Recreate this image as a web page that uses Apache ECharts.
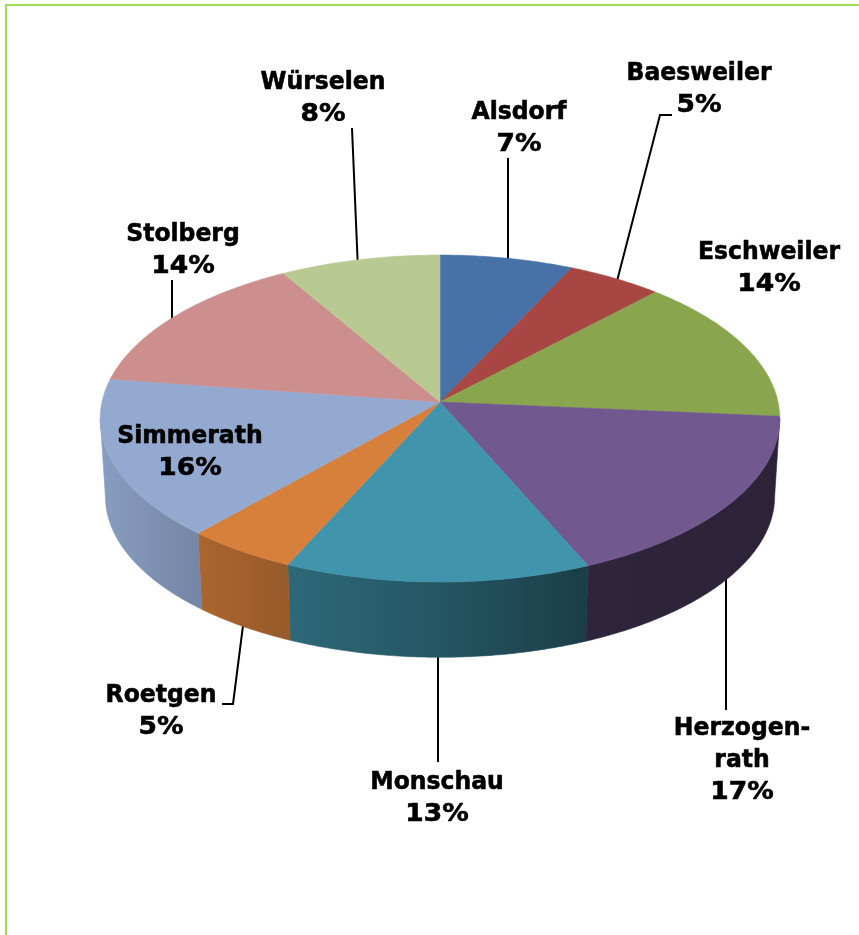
<!DOCTYPE html>
<html>
<head>
<meta charset="utf-8">
<style>html,body{margin:0;padding:0;background:#fff}#c{width:859px;height:935px}</style>
<script src="https://cdn.jsdelivr.net/npm/echarts@6/dist/echarts.min.js"></script>
</head>
<body>
<div id="c"></div>
<script>
const categories = ['Alsdorf','Baesweiler','Eschweiler','Herzogenrath','Monschau','Roetgen','Simmerath','Stolberg','Würselen'];
const labelNames = ['Alsdorf','Baesweiler','Eschweiler','Herzogen-\nrath','Monschau','Roetgen','Simmerath','Stolberg','Würselen'];
const shares = [7.0,5.0,14.4,17.1,13.2,4.8,15.8,14.3,8.4];
const percentLabels = ['7%','5%','14%','17%','13%','5%','16%','14%','8%'];
const colors = ['#4672a8','#a84643','#89a54e','#71588f','#4095ad','#d7803c','#93a9cf','#cd8f8e','#b8ca92'];

// Layout (not data): projection of the disc
const view = {cx:440, cy:402, R:338, S:161.8, p:0.101, depthScale:0.985, depth:78, left:99, right:779};
// Label centres (first line middle) and leader paths
const labelPos = [[519,111],[699,72],[769,251],[742,727],[437,781],[161,694],[190,435],[183,233],[323,81]];
const leaders = [
  [[508,158],[508,270]],
  [[672,115],[660,115],[616,285]],
  null,
  [[726,560],[726,710]],
  [[438,640],[438,762]],
  [[222,704],[233,704],[245,610]],
  null,
  [[172,280],[172,325]],
  [[352,128],[358,270]]
];
const lineH = 32;
const shadeStops = [[0,.93],[.15,.79],[.28,.70],[.5,.58],[.72,.41],[1,.40]];

const total = shares.reduce((a,b)=>a+b,0);
// the wall is only visible between the two points where the rim is widest
const wallFrom = Math.acos(-view.p), wallTo = 2*Math.PI-wallFrom;

function project(a){
  const u=Math.sin(a), v=Math.cos(a), d=1+view.p*v;
  return [view.cx+view.R*u/d, view.cy-view.S*v/d];
}
function lower(pt){
  return [view.cx+(pt[0]-view.cx)*view.depthScale, view.cy+(pt[1]-view.cy)*view.depthScale+view.depth];
}
function range(i){
  let s=0; for(let k=0;k<i;k++) s+=shares[k];
  return [s/total*2*Math.PI,(s+shares[i])/total*2*Math.PI];
}
function arc(a,b){
  const n=Math.max(4,Math.ceil((b-a)/0.01)), out=[];
  for(let k=0;k<=n;k++) out.push(project(a+(b-a)*k/n));
  return out;
}
function hex(c){return [1,3,5].map(o=>parseInt(c.substr(o,2),16));}
function sideFill(c){
  const h=hex(c);
  return new echarts.graphic.LinearGradient(view.left,0,view.right,0,
    shadeStops.map(s=>({offset:s[0],color:'rgb('+h.map(x=>Math.round(x*s[1])).join(',')+')'})),true);
}
function textEl(text,x,y,sx){
  return {type:'text',x,y,scaleX:sx,style:{text,x:0,y:0,align:'center',verticalAlign:'top',
    font:'bold 25px "DejaVu Sans"',lineHeight:lineH,fill:'#000',stroke:'#000',lineWidth:.6}};
}
const rows = shares.map((v,i)=>[v,i]);
const option = {
  animation:false,
  backgroundColor:'#fff',
  graphic:[{type:'polyline',silent:true,shape:{points:[[6,935],[6,5],[859,5]]},style:{stroke:'#9edb5b',lineWidth:2.2,fill:null}}],
  series:[
    {type:'custom',coordinateSystem:'none',silent:true,z:1,data:rows,
     renderItem(params,api){
       const i=api.value(1), l=leaders[i];
       return l?{type:'polyline',shape:{points:l},style:{stroke:'#000',lineWidth:2,fill:null}}:{type:'group',children:[]};
     }},
    {type:'custom',coordinateSystem:'none',silent:true,z:2,data:rows,
     renderItem(params,api){
       const i=api.value(1), r=range(i);
       const a=Math.max(r[0],wallFrom), b=Math.min(r[1],wallTo);
       if(b<=a) return {type:'group',children:[]};
       const t=arc(a,b), f=sideFill(colors[i]);
       const pts=t.concat(t.map(lower).reverse());
       return {type:'polygon',shape:{points:pts},style:{fill:f,stroke:f,lineWidth:.6}};
     }},
    {type:'custom',coordinateSystem:'none',silent:true,z:3,data:rows,
     renderItem(params,api){
       const i=api.value(1), r=range(i);
       const pts=[[view.cx,view.cy]].concat(arc(r[0],r[1]));
       return {type:'polygon',shape:{points:pts},style:{fill:colors[i],stroke:colors[i],lineWidth:.6}};
     }},
    {type:'custom',coordinateSystem:'none',silent:true,z:4,data:rows,
     renderItem(params,api){
       const i=api.value(1), p=labelPos[i], name=labelNames[i];
       const lines=name.split('\n').length, top=p[1]-lineH/2+1;
       return {type:'group',children:[
         textEl(name,p[0],top,.94),
         textEl(percentLabels[i],p[0],top+lines*lineH,1.06)
       ]};
     }}
  ]
};
echarts.init(document.getElementById('c'),null,{renderer:'canvas'}).setOption(option);
</script>
</body>
</html>
